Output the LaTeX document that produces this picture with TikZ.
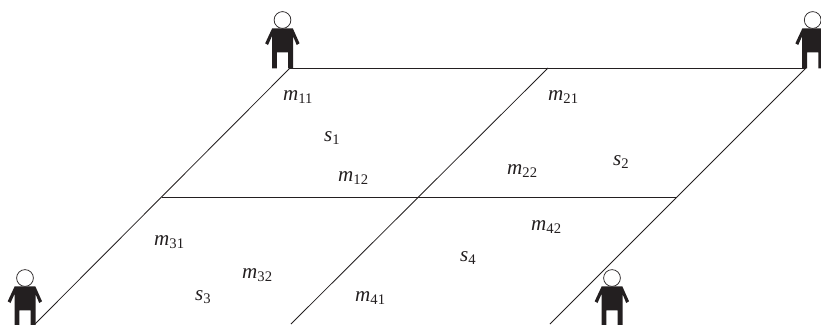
\documentclass[tikz,border=0pt]{standalone}
\usepackage{fontspec}
\setmainfont{Liberation Serif}
\usepackage{xcolor}
\definecolor{ink}{HTML}{231f20}
\newcommand{\msub}[2]{\textit{#1}\raisebox{-2.8pt}{\fontsize{12.5}{13}\selectfont #2}}
\begin{document}
\begin{tikzpicture}[
  x=0.3mm, y=-0.3mm,
  wire/.style={draw=ink, line width=0.7pt},
  lab/.style={font=\fontsize{18}{20}\selectfont, text=ink, inner sep=0pt, anchor=base west},
  person/.pic={
    \fill[ink] (-10.3,8.3) -- (10.3,8.3) -- (17,23.3) -- (14.2,25) -- (10.5,16) -- (10.5,48.3) -- (5.7,48.3) -- (5.7,32.3)
      -- (-5.7,32.3) -- (-5.7,48.3) -- (-10.5,48.3) -- (-10.5,16) -- (-14.5,25) -- (-17.3,23.3) -- cycle;
    \draw[ink, line width=0.6pt, fill=white] (0,0) circle (8.4);
  }]
  \useasboundingbox (0,0) rectangle (821,324);
  \clip (0,0) rectangle (821,324);
  % corners of the fields
  \coordinate (tl) at (290,68);
  \coordinate (tm) at (548,68);
  \coordinate (tr) at (806,68);
  \coordinate (ml) at (162,197);
  \coordinate (mr) at (677,197);
  \coordinate (bl) at (35,324);
  \coordinate (bm) at (291,324);
  \coordinate (br) at (550,324);
  % people
  \pic (p1) at (282.5,20) {person};
  \pic (p2) at (812.7,20) {person};
  \pic (p3) at (25,278) {person};
  \pic (p4) at (612,278) {person};
  % grid
  \draw[wire] (tl) -- (tr);
  \draw[wire] (ml) -- (mr);
  \draw[wire] (tl) -- (bl);
  \draw[wire] (tm) -- (bm);
  \draw[wire] (tr) -- (br);
  % labels
  \node[lab] (m11) at (283,100.5) {\msub{m}{11}};
  \node[lab] (s1) at (324,141.5) {\msub{s}{1}};
  \node[lab] (m12) at (338,181.5) {\msub{m}{12}};
  \node[lab] (m21) at (548,100.5) {\msub{m}{21}};
  \node[lab] (m22) at (507,174) {\msub{m}{22}};
  \node[lab] (s2) at (613,165) {\msub{s}{2}};
  \node[lab] (m31) at (154,245) {\msub{m}{31}};
  \node[lab] (m32) at (242,278) {\msub{m}{32}};
  \node[lab] (s3) at (195,300.5) {\msub{s}{3}};
  \node[lab] (m41) at (355,301) {\msub{m}{41}};
  \node[lab] (s4) at (460,261) {\msub{s}{4}};
  \node[lab] (m42) at (531,230) {\msub{m}{42}};
\end{tikzpicture}
\end{document}
